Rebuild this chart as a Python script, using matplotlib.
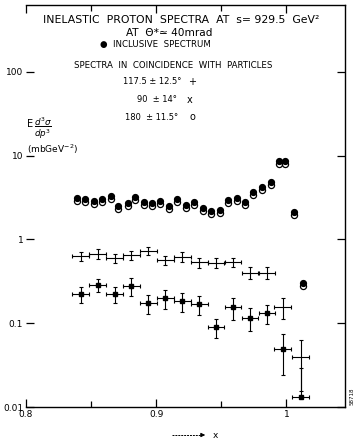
import matplotlib
matplotlib.use("Agg")
import matplotlib.pyplot as plt
from matplotlib.lines import Line2D
from matplotlib.ticker import FixedLocator, NullLocator

# inclusive spectrum (filled) and coincidence with 180 deg (open), same x bins
x_circ = [0.839, 0.845, 0.852, 0.858, 0.865, 0.871, 0.878, 0.884, 0.891, 0.897,
          0.903, 0.910, 0.916, 0.923, 0.929, 0.936, 0.942, 0.949, 0.955, 0.962,
          0.968, 0.974, 0.981, 0.988, 0.994, 0.999, 1.006, 1.013]
inclusive = [3.10, 3.06, 2.91, 3.06, 3.34, 2.49, 2.73, 3.19, 2.83, 2.73,
             2.91, 2.49, 3.06, 2.56, 2.78, 2.38, 2.21, 2.26, 2.97, 3.14,
             2.78, 3.66, 4.28, 4.90, 8.55, 8.55, 2.11, 0.30]
coinc_180 = [2.85, 2.82, 2.68, 2.82, 3.07, 2.29, 2.51, 2.93, 2.60, 2.51,
             2.68, 2.29, 2.82, 2.36, 2.56, 2.19, 2.03, 2.08, 2.73, 2.89,
             2.56, 3.37, 3.94, 4.51, 7.87, 7.87, 1.94, 0.28]

# coincidence with 117.5 deg (+) and 90 deg (x, drawn as squares)
x_bins = [0.842, 0.855, 0.868, 0.881, 0.894, 0.907, 0.920, 0.933, 0.946,
          0.959, 0.972, 0.985, 0.997, 1.011]
coinc_117 = [0.628, 0.676, 0.603, 0.645, 0.733, 0.562, 0.622, 0.532, 0.528,
             0.537, 0.399, 0.399, 0.156, 0.0397]
err_117 = [0.08, 0.09, 0.075, 0.08, 0.09, 0.07, 0.08, 0.07, 0.07,
           0.07, 0.065, 0.065, 0.045, 0.024]
coinc_90 = [0.223, 0.283, 0.221, 0.278, 0.175, 0.199, 0.183, 0.168, 0.0904,
            0.155, 0.115, 0.132, 0.0488, 0.0130]
err_90_lo = [0.05, 0.05, 0.049, 0.065, 0.045, 0.05, 0.046, 0.042, 0.023,
             0.045, 0.035, 0.035, 0.025, 0.0]
err_90_hi = [0.05, 0.05, 0.049, 0.065, 0.045, 0.05, 0.046, 0.042, 0.023,
             0.045, 0.035, 0.035, 0.025, 0.016]
x_halfwidth = 0.0064

y_ticks = [0.01, 0.1, 1, 10, 100]
y_labels = ["0.01", "0.1", "1", "10", "100"]
x_ticks = [0.8, 0.9, 1.0]
x_labels = ["0.8", "0.9", "1"]
x_minor = [0.85, 0.95]

W, H = 356, 440
fig = plt.figure(figsize=(W / 100, H / 100), dpi=100)
ax = fig.add_axes([26 / W, 33 / H, 319 / W, 402 / H])


def put(xp, yp, s, **kw):
    kw.setdefault("ha", "left")
    kw.setdefault("va", "center")
    fig.text(xp / W, 1 - yp / H, s, **kw)


ax.errorbar(x_bins, coinc_117, yerr=err_117, xerr=x_halfwidth, fmt="none",
            ecolor="k", elinewidth=0.8, capsize=1.5, capthick=0.8)
ax.errorbar(x_bins, coinc_90, yerr=[err_90_lo, err_90_hi], xerr=x_halfwidth,
            fmt="s", ms=3.4, color="k", ecolor="k", elinewidth=0.8,
            capsize=1.5, capthick=0.8)
ax.plot(x_circ, coinc_180, "o", mfc="white", mec="k", ms=4.4, mew=0.9, ls="none")
ax.plot(x_circ, inclusive, "o", color="k", ms=4.2, ls="none")

ax.set_yscale("log")
ax.set_xlim(0.8, 1.045)
ax.set_ylim(0.01, 628)
ax.yaxis.set_major_locator(FixedLocator(y_ticks))
ax.yaxis.set_minor_locator(NullLocator())
ax.set_yticklabels(y_labels)
ax.xaxis.set_major_locator(FixedLocator(x_ticks))
ax.xaxis.set_minor_locator(FixedLocator(x_minor))
ax.set_xticklabels(x_labels)
ax.tick_params(which="major", direction="in", length=6, width=0.9,
               top=True, right=True, labelsize=6.5, pad=2)
ax.tick_params(which="minor", direction="in", length=4, width=0.9,
               top=True, right=True)
ax.spines["left"].set_visible(False)
for side in ("top", "right", "bottom"):
    ax.spines[side].set_linewidth(1.0)

put(181, 20, "INELASTIC  PROTON  SPECTRA  AT  s= 929.5  GeV\u00b2", ha="center", fontsize=7.8)
put(169, 33, "AT  \u0398*\u2243 40mrad", ha="center", fontsize=7.6)
put(155, 45, "\u25cf  INCLUSIVE  SPECTRUM", ha="center", fontsize=6.2)
put(173, 66, "SPECTRA  IN  COINCIDENCE  WITH  PARTICLES", ha="center", fontsize=6.2)
put(123, 81, "117.5 \u00b1 12.5\u00b0", fontsize=6)
put(192, 82, "+", ha="center", fontsize=7)
put(137, 99, "90  \u00b1 14\u00b0", fontsize=6)
put(190, 100, "x", ha="center", fontsize=7)
put(125, 117, "180  \u00b1 11.5\u00b0", fontsize=6)
put(192, 117, "o", ha="center", fontsize=7)

put(27, 124, "E", fontsize=7)
put(34, 128, r"$\dfrac{d^3\sigma}{dp^3}$", fontsize=6.3)
put(27, 149, r"(mbGeV$^{-2}$)", fontsize=6.5)

# dashed arrow towards "x" under the axis
yy = 1 - 435 / H
fig.add_artist(Line2D([172 / W, 200 / W], [yy, yy], lw=0.7, ls=(0, (2, 1)), color="k"))
ax.annotate("", xy=(208 / W, yy), xytext=(198 / W, yy), xycoords="figure fraction",
            arrowprops=dict(arrowstyle="-|>", lw=0.7, color="k", mutation_scale=6))
put(213, 435, "x", fontsize=6.5)

put(352, 396, "58718", fontsize=4, rotation=90, ha="center")

fig.savefig("out.png", dpi=100)
